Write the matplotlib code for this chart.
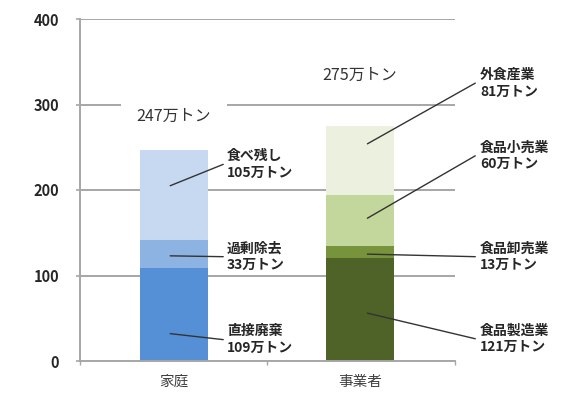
import matplotlib
matplotlib.use("Agg")
import matplotlib.pyplot as plt
import numpy as np

plt.rcParams['font.family'] = ['Noto Sans CJK JP', 'DejaVu Sans']

# Data (万トン)
categories = ["家庭", "事業者"]
household_names = ["直接廃棄", "過剰除去", "食べ残し"]
household_values = [109, 33, 105]
business_names = ["食品製造業", "食品卸売業", "食品小売業", "外食産業"]
business_values = [121, 13, 60, 81]
yticks = [0, 100, 200, 300, 400]

household_colors = ["#5590d6", "#8db3e2", "#c6d9f1"]
business_colors = ["#4f6228", "#77933c", "#c3d69b", "#ebf1de"]

fig = plt.figure(figsize=(5.8, 4.0), dpi=100)
ax = fig.add_axes([80 / 580, 1 - 361 / 400, 375 / 580, 342 / 400])

x_pos = np.arange(len(categories))
bar_w = 0.366
ax.set_xlim(-0.505, 1.511)
ax.set_ylim(0, 400)

grid_color = "#a6a6a6"
for t in yticks[1:]:
    ax.axhline(t, color=grid_color, lw=1.4, zorder=0)

# Stacked bars
def stack(xc, values, colors):
    bottom = 0
    for v, c in zip(values, colors):
        ax.bar(xc, v, bar_w, bottom=bottom, color=c, edgecolor="none", zorder=2)
        bottom += v
    return bottom

total_h = stack(x_pos[0], household_values, household_colors)
total_b = stack(x_pos[1], business_values, business_colors)

# Leader-line anchors (inside bar) and label positions
h_anchor = [(-0.02, 32), (-0.02, 123), (-0.02, 205)]
h_text = [(0.265, 25), (0.265, 122), (0.265, 230)]
b_anchor = [(1.04, 56), (1.04, 125), (1.04, 167), (1.04, 254)]
b_text = [(1.62, 26), (1.62, 122), (1.62, 240), (1.62, 325)]

lbl_kw = dict(fontsize=10, fontweight="bold", color="#262626",
              ha="left", va="center", linespacing=1.25,
              annotation_clip=False, zorder=5)
line_kw = dict(arrowstyle="-", color="#333333", lw=1.0, shrinkA=0, shrinkB=0)

for name, v, a, t in zip(household_names, household_values, h_anchor, h_text):
    ax.annotate("", xy=a, xytext=t, arrowprops=line_kw, annotation_clip=False)
    ax.annotate(f"{name}\n{v}万トン", xy=(t[0] + 0.02, t[1]), **lbl_kw)

for name, v, a, t in zip(business_names, business_values, b_anchor, b_text):
    ax.annotate("", xy=a, xytext=t, arrowprops=line_kw, annotation_clip=False)
    ax.annotate(f"{name}\n{v}万トン", xy=(t[0] + 0.025, t[1]), **lbl_kw)

# Totals
ax.text(x_pos[0], 286, f"{total_h}万トン", fontsize=11.5, color="#333333",
        ha="center", va="center", zorder=4,
        bbox=dict(boxstyle="square,pad=1.0", fc="white", ec="none"))
ax.text(x_pos[1], 334, f"{total_b}万トン", fontsize=11.5, color="#333333",
        ha="center", va="center", zorder=4)

# Axes styling
for s in ["top", "right"]:
    ax.spines[s].set_visible(False)
for s in ["left", "bottom"]:
    ax.spines[s].set_color(grid_color)
    ax.spines[s].set_linewidth(1.4)

ax.set_yticks(yticks)
ax.set_yticklabels([str(t) for t in yticks], fontsize=10.5, fontweight="bold",
                   color="#262626")
ax.tick_params(axis="y", length=3, width=1.2, color=grid_color, pad=12)

ax.set_xticks(x_pos)
ax.set_xticklabels(categories, fontsize=10.5, color="#404040")
ax.tick_params(axis="x", length=0, pad=10)
# minor ticks between categories
ax.set_xticks([-0.505, 0.5, 1.511], minor=True)
ax.tick_params(axis="x", which="minor", length=3, width=1.0, color=grid_color)

fig.savefig("out.png", dpi=100, facecolor="white")
